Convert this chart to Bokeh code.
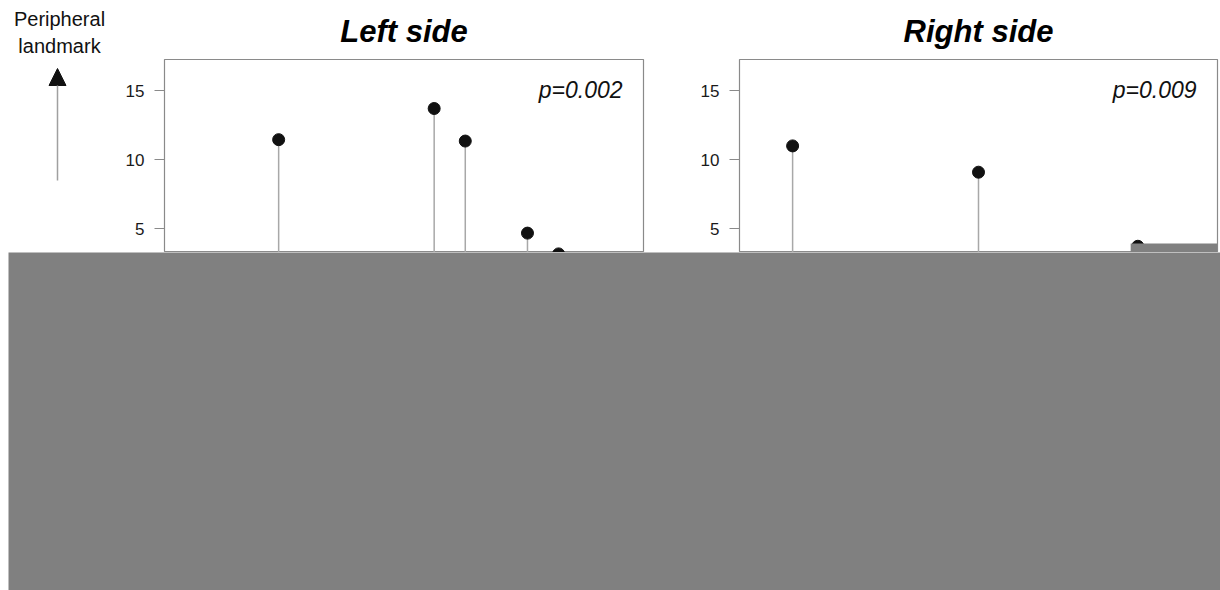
from bokeh.plotting import figure
from bokeh.layouts import row, column
from bokeh.models import (Range1d, FixedTicker, Label, Arrow, NormalHead,
                          BoxAnnotation, Title, Spacer)
from bokeh.core.properties import value
from bokeh.embed import file_html
from bokeh.resources import INLINE

left_pos = [4, 9, 10, 12, 13]
left_vals = [11.45, 13.7, 11.35, 4.7, 3.2]
right_pos = [2, 9, 15]
right_vals = [11.0, 9.1, 3.75]
y_ticks = [-15, -10, -5, 0, 5, 10, 15]
titles = ["Left side", "Right side"]
p_values = ["p=0.002", "p=0.009"]
side_label = ["Peripheral", "landmark"]

FONT = "Liberation Sans"
TOP_H = 252
FRAME_TOP = 59
FRAME_H = TOP_H - FRAME_TOP
Y0, Y1 = 3.3, 17.24


def panel(width, border_left, border_right, xr, xs, ys, title, ptxt):
    frame_w = width - border_left - border_right
    p = figure(width=width, height=TOP_H, output_backend="svg",
               toolbar_location=None, x_range=Range1d(*xr),
               y_range=Range1d(Y0, Y1), x_axis_location=None, title=None,
               min_border_left=border_left, min_border_right=border_right,
               min_border_top=FRAME_TOP, min_border_bottom=0,
               background_fill_color="white", border_fill_color="white")
    p.grid.visible = False
    p.outline_line_color = "#8a8a8a"
    p.outline_line_width = 1.2
    ax = p.yaxis[0]
    ax.ticker = FixedTicker(ticks=y_ticks)
    ax.axis_line_color = None
    ax.major_tick_line_color = "#8a8a8a"
    ax.major_tick_out = 10
    ax.major_tick_in = 0
    ax.minor_tick_line_color = None
    ax.major_label_standoff = 10
    ax.major_label_text_font = FONT
    ax.major_label_text_font_size = "17px"
    ax.major_label_text_color = "#1a1a1a"
    p.segment(x0=xs, y0=[0] * len(xs), x1=xs, y1=ys,
              line_color="#a8a8a8", line_width=1.5)
    p.scatter(x=xs, y=ys, size=12, fill_color="#111111",
              line_color="#111111")
    p.add_layout(Title(text=title, align="center", text_font=FONT,
                       text_font_size="31px", text_font_style="bold italic",
                       text_color="#000000", standoff=22), "above")
    p.add_layout(Label(x=frame_w - 21, y=FRAME_H - 30, x_units="screen",
                       y_units="screen", text=ptxt, text_align="right",
                       text_baseline="alphabetic", text_font=FONT,
                       text_font_size="23px", text_font_style="italic",
                       text_color="#111111"))
    return p


# label / arrow strip on the far left
lab = figure(width=118, height=TOP_H, output_backend="svg",
             toolbar_location=None, x_range=Range1d(0, 118),
             y_range=Range1d(TOP_H, FRAME_TOP), x_axis_location=None,
             y_axis_location=None, title=None,
             min_border_left=0, min_border_right=0,
             min_border_top=FRAME_TOP, min_border_bottom=0)
lab.grid.visible = False
lab.outline_line_color = None
lab.add_layout(Title(text=side_label[1], align="center", text_font=FONT,
                     text_font_size="20px", text_font_style="normal",
                     text_color="#111111", standoff=6), "above")
lab.add_layout(Title(text=side_label[0], align="center", text_font=FONT,
                     text_font_size="20px", text_font_style="normal",
                     text_color="#111111", standoff=0), "above")
lab.add_layout(Arrow(x_start=57, y_start=180, x_end=57, y_end=68,
                     line_color="#a0a0a0", line_width=1.5,
                     end=NormalHead(size=17, fill_color="#111111",
                                    line_color="#111111")))

left = panel(572, 46, 47, (0.33, 15.73), left_pos, left_vals,
             titles[0], p_values[0])
right = panel(530, 49, 3, (0.0, 18.0), right_pos, right_vals,
              titles[1], p_values[1])
right.add_layout(BoxAnnotation(left=14.73, top=3.95, fill_color="#808080",
                               fill_alpha=1.0, line_color=None))

# grey band covering the lower part, as in the reference
cover = figure(width=1212, height=590 - TOP_H, output_backend="svg",
               toolbar_location=None, x_axis_location=None,
               y_axis_location=None, title=None, min_border=0,
               background_fill_color="#808080", border_fill_color="#808080")
cover.min_border_left = cover.min_border_right = 0
cover.min_border_top = cover.min_border_bottom = 0
cover.grid.visible = False
cover.outline_line_color = None

layout = column(row(lab, left, right, spacing=0),
                row(Spacer(width=8, height=590 - TOP_H), cover, spacing=0),
                spacing=0)

with open("out.html", "w") as f:
    f.write(file_html(layout, INLINE))
